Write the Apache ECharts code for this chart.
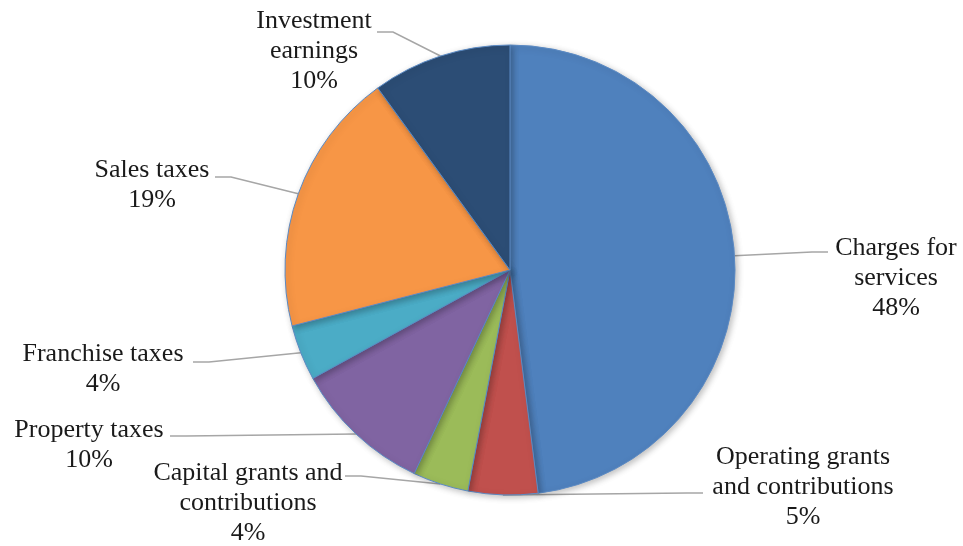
<!DOCTYPE html>
<html>
<head>
<meta charset="utf-8">
<script src="https://cdn.jsdelivr.net/npm/echarts@6/dist/echarts.min.js"></script>
<style>html,body{margin:0;padding:0;background:#fff;}#c{width:963px;height:546px;}</style>
</head>
<body>
<div id="c"></div>
<script>
var categories = ['Charges for services','Operating grants and contributions','Capital grants and contributions','Property taxes','Franchise taxes','Sales taxes','Investment earnings'];
var wrappedNames = ['Charges for\nservices','Operating grants\nand contributions','Capital grants and\ncontributions','Property taxes','Franchise taxes','Sales taxes','Investment\nearnings'];
var values = [48, 5, 4, 10, 4, 19, 10];
var colors = ['#4F81BD','#C0504D','#9BBB59','#8064A2','#4BACC6','#F79646','#2C4D75'];

// label layout (text block center-x, top-y) and leader line end points
var labelPos = [[896,233],[803,442],[248,458],[89,415],[103,339],[152,155],[314,6]];
var lineEnd = [[828,252],[703,493],[345,476],[170,436],[193,362],[215,177],[377,32]];

var CX = 510, CY = 270, R = 225;
var total = values.reduce(function(a,b){return a+b;},0);
function edgePoint(i){
  var before = 0; for (var k=0;k<i;k++) before += values[k];
  var mid = (before + values[i]/2)/total*2*Math.PI;
  return [CX + R*Math.sin(mid), CY - R*Math.cos(mid)];
}

var chart = echarts.init(document.getElementById('c'));
chart.setOption({
  backgroundColor:'#fff',
  animation:false,
  series:[{
    type:'pie',
    center:[CX,CY],
    radius:R,
    startAngle:90,
    clockwise:true,
    data: categories.map(function(n,i){return {name:n,value:values[i],itemStyle:{color:colors[i]}};}),
    itemStyle:{borderColor:'#5B8AC4',borderWidth:1,shadowBlur:6,shadowColor:'rgba(0,0,0,0.25)',shadowOffsetX:2,shadowOffsetY:2},
    label:{
      show:true,
      position:'outside',
      formatter:function(p){return wrappedNames[p.dataIndex]+'\n'+p.value+'%';},
      fontFamily:'Liberation Serif',
      fontSize:26,
      lineHeight:30,
      color:'#1a1a1a',
      align:'center'
    },
    labelLine:{show:true,length:10,length2:10,lineStyle:{color:'#A6A6A6',width:1.5}},
    emphasis:{disabled:true},
    labelLayout:function(params){
      var i = params.dataIndex;
      var e = lineEnd[i];
      var p0 = edgePoint(i);
      var dir = p0[0] > e[0] ? 1 : -1;
      var elbow = [e[0] + dir*16, e[1]];
      return {
        x: labelPos[i][0], y: labelPos[i][1],
        align:'center', verticalAlign:'top',
        labelLinePoints:[p0, elbow, e]
      };
    }
  }]
});
</script>
</body>
</html>
